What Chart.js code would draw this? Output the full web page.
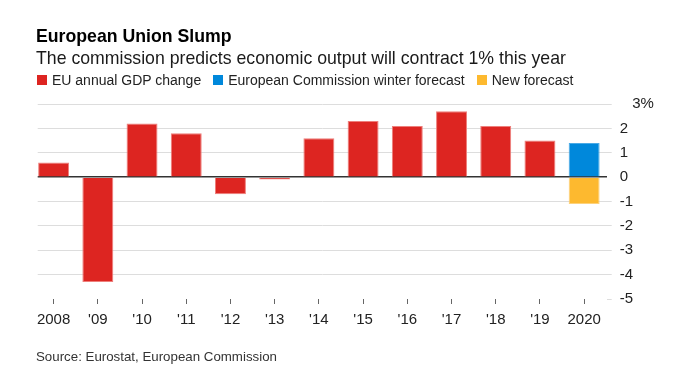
<!DOCTYPE html>
<html>
<head>
<meta charset="utf-8">
<script src="https://cdn.jsdelivr.net/npm/chart.js@4.4.1/dist/chart.umd.min.js"></script>
<style>
  body { margin: 0; background: #fff; font-family: 'Liberation Sans', Arial, Helvetica, sans-serif; }
  #wrap { position: relative; width: 688px; height: 377px; overflow: hidden; }
  #gdpChart { position: absolute; left: 0; top: 0; }
  .title { position: absolute; left: 36px; top: 26px; font-size: 17.7px; line-height: 20px; font-weight: bold; color: #000; white-space: nowrap; }
  .subtitle { position: absolute; left: 36px; top: 47.5px; font-size: 17.7px; line-height: 20px; color: #1a1a1a; white-space: nowrap; }
  .legend { position: absolute; left: 37px; top: 71px; display: flex; align-items: center; font-size: 14px; line-height: 18px; color: #222; white-space: nowrap; }
  .legend .item { display: flex; align-items: center; margin-right: 12px; }
  .legend .sw { width: 10px; height: 10px; margin-right: 5px; }
  .source { position: absolute; left: 36px; top: 349px; font-size: 13.3px; line-height: 16px; color: #333; white-space: nowrap; }
</style>
</head>
<body>
<div id="wrap">
  <canvas id="gdpChart" width="688" height="377"></canvas>
  <div class="title">European Union Slump</div>
  <div class="subtitle">The commission predicts economic output will contract 1% this year</div>
  <div class="legend" id="legend"></div>
  <div class="source">Source: Eurostat, European Commission</div>
</div>
<script>
// data
const years = ['2008', "'09", "'10", "'11", "'12", "'13", "'14", "'15", "'16", "'17", "'18", "'19", '2020'];
const gdpChange = [0.6, -4.3, 2.2, 1.8, -0.7, -0.1, 1.6, 2.3, 2.1, 2.7, 2.1, 1.5]; // 2008-2019
const winterForecast = [1.4]; // 2020
const newForecast = [-1.1];   // 2020
const seriesNames = ['EU annual GDP change', 'European Commission winter forecast', 'New forecast'];
const seriesColors = ['#dd2521', '#0088db', '#fdb92f'];
const seriesBorders = ['#ee7f7b', '#4aaae6', '#fdd27c'];
const yTicks = [-5, -4, -3, -2, -1, 0, 1, 2, 3];
const yTickLabels = ['-5', '-4', '-3', '-2', '-1', '0', '1', '2', '3%'];

const last = years.length - 1;
const seriesData = [
    gdpChange.map((v, i) => ({ x: i, y: v })),
    winterForecast.map(v => ({ x: last, y: v })),
    newForecast.map(v => ({ x: last, y: v }))
];

// legend
const legendEl = document.getElementById('legend');
seriesNames.forEach((name, i) => {
    const item = document.createElement('div');
    item.className = 'item';
    item.innerHTML = '<span class="sw" style="background:' + seriesColors[i] + '"></span><span>' + name + '</span>';
    legendEl.appendChild(item);
});

Chart.defaults.font.family = "'Liberation Sans', Arial, Helvetica, sans-serif";

new Chart(document.getElementById('gdpChart'), {
    type: 'bar',
    data: {
        datasets: seriesNames.map((name, i) => ({
            label: name,
            data: seriesData[i],
            backgroundColor: seriesColors[i],
            borderColor: seriesBorders[i],
            borderWidth: 1,
            grouped: false,
            categoryPercentage: 1,
            barPercentage: 0.7
        }))
    },
    options: {
        responsive: false,
        animation: false,
        devicePixelRatio: 1,
        layout: { padding: { left: 37.7, right: 21.3, top: 104, bottom: 48 } },
        plugins: {
            legend: { display: false },
            tooltip: { enabled: false }
        },
        scales: {
            x: {
                type: 'linear',
                offset: false,
                min: -0.36,
                max: 12.51,
                afterBuildTicks: (axis) => { axis.ticks = years.map((_, i) => ({ value: i })); },
                afterFit: (axis) => { axis.height = 30; },
                ticks: {
                    autoSkip: false,
                    maxRotation: 0,
                    padding: 6.5,
                    color: '#222',
                    font: { size: 15 },
                    callback: (value) => years[value]
                },
                grid: { offset: false, drawOnChartArea: false, drawTicks: true, tickLength: 5, tickColor: '#666', tickWidth: 1 },
                border: { display: false }
            },
            y: {
                position: 'right',
                min: -5,
                max: 3,
                afterBuildTicks: (axis) => { axis.ticks = yTicks.map(v => ({ value: v })); },
                afterFit: (axis) => { axis.width = 60; },
                ticks: {
                    padding: 8,
                    color: '#222',
                    font: { size: 15 },
                    callback: (value) => {
                        const label = yTickLabels[yTicks.indexOf(value)];
                        return value === 3 ? '   ' + label : label;
                    }
                },
                grid: {
                    color: (ctx) => ctx.tick.value === 0 ? '#333' : (ctx.tick.value === -5 ? 'rgba(0,0,0,0)' : '#dddddd'),
                    lineWidth: (ctx) => ctx.tick.value === 0 ? 1.5 : 1,
                    tickColor: (ctx) => ctx.tick.value === 0 ? 'rgba(0,0,0,0)' : '#dddddd',
                    tickLength: 5
                },
                border: { display: false }
            }
        }
    }
});
</script>
</body>
</html>
